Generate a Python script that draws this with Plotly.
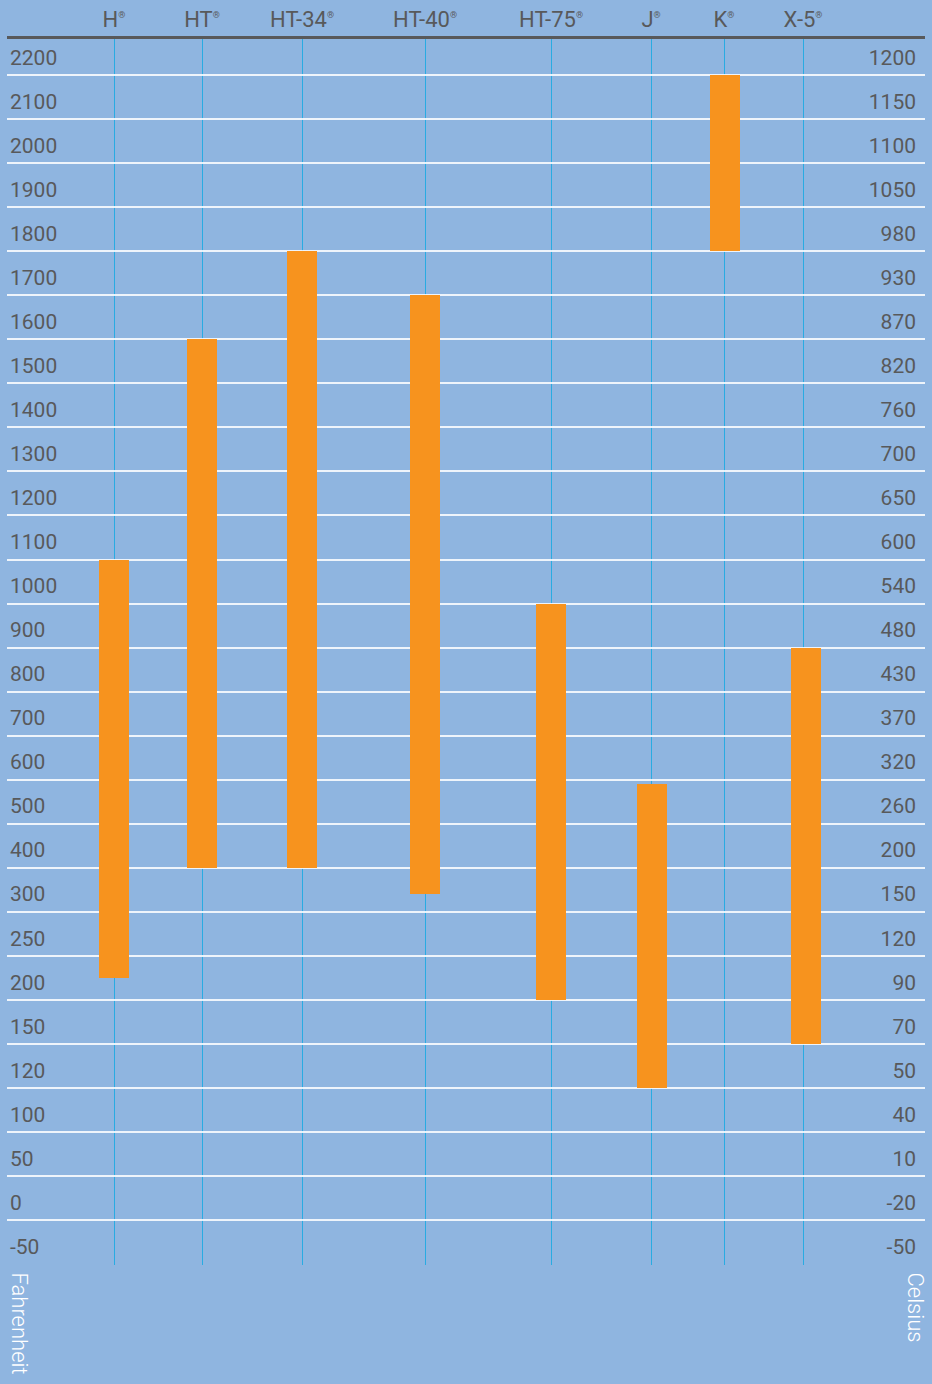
import numpy as np
import plotly.graph_objects as go

# Data
products = ["H", "HT", "HT-34", "HT-40", "HT-75", "J", "K", "X-5"]
low_f = [225, 400, 400, 340, 200, 120, 1800, 150]
high_f = [1100, 1600, 1800, 1700, 1000, 590, 2200, 900]

f_ticks = [-50, 0, 50, 100, 120, 150, 200, 250, 300, 400, 500, 600, 700, 800, 900,
           1000, 1100, 1200, 1300, 1400, 1500, 1600, 1700, 1800, 1900, 2000, 2100, 2200]
c_ticks = ["-50", "-20", "10", "40", "50", "70", "90", "120", "150", "200", "260", "320",
           "370", "430", "480", "540", "600", "650", "700", "760", "820", "870", "930",
           "980", "1050", "1100", "1150", "1200"]

# layout positions (pixel-like x units)
x_pos = [114, 202, 302, 425, 551, 651, 724, 803]
bar_pos = [114, 202, 302, 425, 551, 652, 725, 806]

rows = np.arange(len(f_ticks))
def to_row(v):
    return np.interp(v, f_ticks, rows)

lo_r = to_row(low_f)
hi_r = to_row(high_f)

BG = "#8fb5e0"
ORANGE = "#f7931e"
GRID_V = "#29abe2"
TXT = "#58595b"
FONT = "Roboto"

fig = go.Figure()
fig.add_trace(go.Bar(x=bar_pos, y=hi_r - lo_r, base=lo_r, width=30,
                     marker=dict(color=ORANGE, line=dict(width=0)),
                     hoverinfo="skip", showlegend=False))
# invisible trace for secondary axis
fig.add_trace(go.Scatter(x=[x_pos[0]], y=[0], yaxis="y2", mode="markers",
                         marker=dict(opacity=0), showlegend=False, hoverinfo="skip"))

sup = "<sup><span style='font-size:9px'>®</span></sup>"
fig.update_layout(
    width=932, height=1384,
    margin=dict(l=7, r=7, t=39, b=119),
    paper_bgcolor=BG, plot_bgcolor=BG,
    font=dict(family=FONT, color=TXT),
    xaxis=dict(range=[7, 925], side="top", tickvals=x_pos,
               ticktext=[p + sup for p in products],
               tickfont=dict(size=22, color=TXT),
               showgrid=True, gridcolor=GRID_V, gridwidth=1.4,
               showline=True, linecolor="#58595b", linewidth=3,
               ticks="", zeroline=False, fixedrange=True),
    yaxis=dict(range=[-0.02, 27.82], tickvals=list(rows), ticktext=[str(v) for v in f_ticks],
               ticklabelposition="inside top", tickfont=dict(size=21, color=TXT),
               ticklabelshift=-3,
               showgrid=True, gridcolor="rgba(255,255,255,0.85)", gridwidth=1.5,
               zeroline=False, showline=False, ticks="", fixedrange=True),
    yaxis2=dict(range=[-0.02, 27.82], overlaying="y", side="right",
                tickvals=list(rows), ticktext=c_ticks,
                ticklabelposition="inside top", tickfont=dict(size=21, color=TXT),
                ticklabelshift=-3, ticklabelstandoff=6,
                showgrid=False, zeroline=False, showline=False, ticks="", fixedrange=True),
    bargap=0,
)
fig.add_annotation(text="Fahrenheit", xref="paper", yref="paper", x=0, y=0,
                   xanchor="left", yanchor="top", xshift=-2, yshift=-5, textangle=90,
                   showarrow=False, font=dict(size=22, color="white", family=FONT, weight=300))
fig.add_annotation(text="Celsius", xref="paper", yref="paper", x=1, y=0,
                   xanchor="right", yanchor="top", xshift=5, yshift=-5, textangle=90,
                   showarrow=False, font=dict(size=22, color="white", family=FONT, weight=300))

fig.write_html("out.html", config={"displayModeBar": False},
               post_script="document.body.style.margin='0';document.body.style.background='%s';" % BG)
